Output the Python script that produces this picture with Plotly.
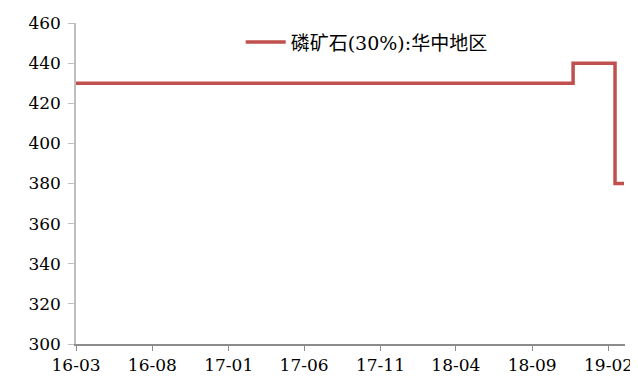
import plotly.graph_objects as go

# price change points (yuan/ton), step series
dates = ["2016-03-01", "2018-11-22", "2019-02-14", "2019-03-04"]
prices = [430, 440, 380, 380]
series_name = "磷矿石(30%):华中地区"

tick_dates = ["2016-03-01", "2016-08-01", "2017-01-01", "2017-06-01",
              "2017-11-01", "2018-04-01", "2018-09-01", "2019-02-01"]
tick_labels = ["16-03", "16-08", "17-01", "17-06", "17-11", "18-04", "18-09", "19-02"]

FONT = "DejaVu Serif, Noto Sans CJK SC, serif"

fig = go.Figure()
fig.add_trace(go.Scatter(
    x=dates, y=prices, name=series_name,
    mode="lines", line=dict(color="#C0504D", width=3.5, shape="hv"),
    showlegend=True,
))

# page body has an 8px margin, so the figure is a bit smaller than the window
fig.update_layout(
    width=630, height=377,
    margin=dict(l=68, r=13, t=15, b=41, autoexpand=False),
    plot_bgcolor="white", paper_bgcolor="white",
    font=dict(family=FONT, size=17, color="black"),
    legend=dict(x=0.3, y=0.94, xanchor="left", yanchor="middle",
                bgcolor="rgba(0,0,0,0)", font=dict(family=FONT, size=19),
                itemwidth=40),
    xaxis=dict(
        type="date", range=["2016-03-01", "2019-03-06"],
        tickvals=tick_dates, ticktext=tick_labels,
        showgrid=False, zeroline=False,
        showline=True, linecolor="#8c8c8c", linewidth=1.5,
        ticks="outside", ticklen=5, tickcolor="#8c8c8c",
    ),
    yaxis=dict(
        range=[300, 460], dtick=20,
        showgrid=False, zeroline=False,
        showline=True, linecolor="#bfbfbf", linewidth=1.5,
        ticks="outside", ticklen=6, tickcolor="#bfbfbf",
        ticklabelstandoff=4,
    ),
)

fig.write_html("out.html")
